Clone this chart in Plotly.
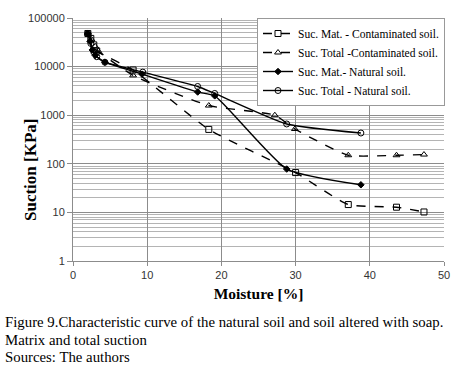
import plotly.graph_objects as go

# Data
mat_cont_x = [2.0, 2.4, 2.8, 3.2, 8.1, 18.3, 30.0, 37.1, 43.6, 47.3]
mat_cont_y = [48000, 38000, 28000, 21000, 8500, 510, 66, 14.5, 12.8, 10.2]

tot_cont_x = [2.0, 2.5, 3.0, 3.4, 8.1, 18.3, 27.2, 29.9, 37.1, 43.6, 47.3]
tot_cont_y = [48000, 36000, 26000, 21000, 6600, 1580, 1000, 520, 150, 150, 155]

mat_nat_x = [2.0, 2.3, 2.6, 3.0, 4.3, 9.3, 16.8, 19.1, 28.8, 38.8]
mat_nat_y = [48000, 33000, 22000, 17000, 12300, 7000, 3000, 2500, 78, 37]

tot_nat_x = [2.0, 2.4, 2.8, 3.2, 4.3, 9.4, 16.8, 19.1, 28.8, 38.8]
tot_nat_y = [48000, 30000, 20000, 16000, 12300, 7700, 3900, 2800, 660, 430]

series = [
    ("Suc. Mat. - Contaminated soil.", mat_cont_x, mat_cont_y, "dash", "square-open"),
    ("Suc. Total -Contaminated soil.", tot_cont_x, tot_cont_y, "dash", "triangle-up-open"),
    ("Suc. Mat.- Natural soil.", mat_nat_x, mat_nat_y, "solid", "diamond"),
    ("Suc. Total - Natural soil.", tot_nat_x, tot_nat_y, "solid", "circle-open"),
]

fig = go.Figure()
for i, (name, xs, ys, dash, sym) in enumerate(series):
    fig.add_trace(go.Scatter(
        x=xs, y=ys, name=name, mode="lines+markers",
        line=dict(color="black", width=1.4, dash=dash, shape="spline", smoothing=0.5),
        marker=dict(symbol=sym, size=6 if sym != "diamond" else 5, color="black",
                    line=dict(color="black", width=1)),
    ))

PL, PR, PT, PB = 73, 444, 18, 261  # plot area in pixels
PW, PH = PR - PL, PB - PT

fig.update_layout(
    width=462, height=369,
    margin=dict(l=PL, r=462 - PR, t=PT, b=369 - PB),
    paper_bgcolor="white", plot_bgcolor="white",
    font=dict(family="Liberation Sans", size=11, color="black"),
    legend=dict(
        x=(257 - PL) / PW, y=1.0, xanchor="left", yanchor="top",
        bgcolor="white", bordercolor="#999999", borderwidth=1,
        font=dict(family="Liberation Serif", size=11.5, color="black"),
        itemwidth=30,
    ),
    xaxis=dict(
        range=[0, 50], dtick=10, showgrid=True, gridcolor="#8c8c8c", gridwidth=1,
        showline=True, linecolor="#8c8c8c", zeroline=False,
        ticks="outside", ticklen=4, tickcolor="#8c8c8c", automargin=False,
        tickfont=dict(family="Liberation Sans", size=11, color="#333333"),
        title=dict(text="<b>Moisture [%]</b>",
                   font=dict(family="Liberation Serif", size=15.5, color="black"),
                   standoff=7),
    ),
    yaxis=dict(
        type="log", range=[0, 5], dtick=1, showgrid=True, gridcolor="#8c8c8c", gridwidth=1,
        showline=True, linecolor="#8c8c8c", zeroline=False,
        ticks="outside", ticklen=5, tickcolor="#8c8c8c", automargin=False,
        tickformat="d",
        tickfont=dict(family="Liberation Sans", size=11, color="#333333"),
        minor=dict(showgrid=True, gridcolor="#b4b4b4", dtick="D1", ticks=""),
    ),
)

# y-axis title placed as annotation to match the reference position
fig.add_annotation(
    text="<b>Suction [KPa]</b>", xref="paper", yref="paper",
    x=(30 - PL) / PW, y=(PB - 170) / PH, xanchor="center", yanchor="middle",
    textangle=-90, showarrow=False,
    font=dict(family="Liberation Serif", size=17, color="black"),
)

caption = [
    "Figure 9.Characteristic curve of the natural soil and soil altered with soap.",
    "Matrix and total suction",
    "Sources: The authors",
]
for i, line in enumerate(caption):
    fig.add_annotation(
        text=line, xref="paper", yref="paper",
        x=(3 - PL) / PW, y=(PB - (322 + 17.5 * i)) / PH,
        xanchor="left", yanchor="middle", showarrow=False, align="left",
        font=dict(family="Liberation Serif", size=14.8, color="black"),
    )

fig.write_html(
    "out.html",
    config={"displayModeBar": False},
    post_script="document.body.style.margin='0px';document.body.style.padding='0px';",
)
